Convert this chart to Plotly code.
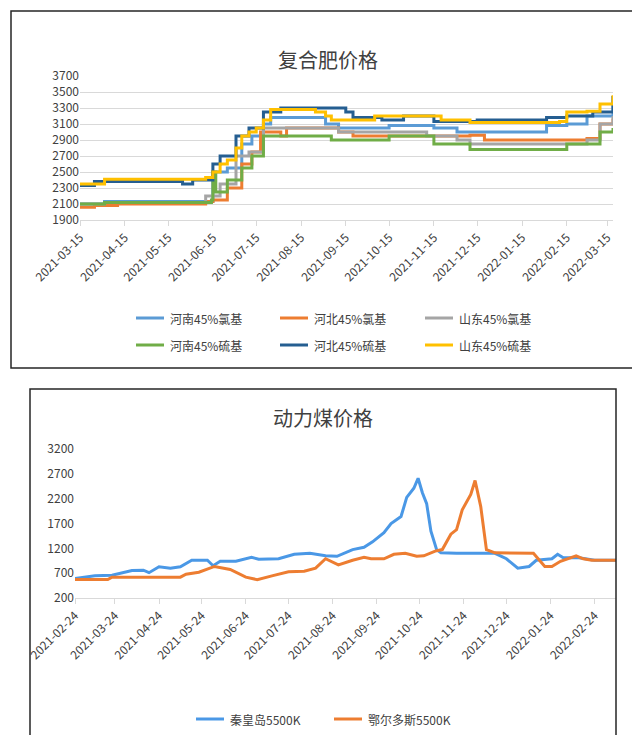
import plotly.graph_objects as go

FONT = "Noto Sans CJK SC"

# ---- 复合肥价格 ----
hn_cl_d = ["2021-03-15","2021-04-01","2021-06-10","2021-06-15","2021-06-25","2021-07-05","2021-07-12","2021-07-20","2021-07-25","2021-08-25","2021-09-01","2021-09-10","2021-10-10","2021-10-15","2021-11-10","2021-11-15","2021-12-01","2022-01-20","2022-02-01","2022-02-15","2022-03-01","2022-03-19"]
hn_cl_v = [2100,2130,2130,2500,2550,2850,2950,3100,3180,3180,3100,3050,3050,3080,3080,3050,3000,3000,3080,3100,3200,3450]
hb_cl_d = ["2021-03-15","2021-03-25","2021-04-10","2021-06-01","2021-06-10","2021-06-15","2021-06-25","2021-07-05","2021-07-12","2021-07-18","2021-08-01","2021-08-05","2021-09-01","2021-09-10","2021-09-20","2021-12-10","2021-12-20","2022-02-15","2022-03-01","2022-03-10","2022-03-19"]
hb_cl_v = [2060,2080,2100,2100,2130,2150,2300,2600,2750,3000,2950,3050,3050,3000,2950,2960,2900,2900,2920,3100,3170]
sd_cl_d = ["2021-03-15","2021-04-01","2021-06-01","2021-06-10","2021-06-20","2021-07-01","2021-07-10","2021-07-20","2021-09-01","2021-09-10","2021-11-01","2021-11-10","2021-12-01","2021-12-10","2022-02-15","2022-03-01","2022-03-10","2022-03-19"]
sd_cl_v = [2100,2120,2120,2200,2350,2700,2750,3050,3050,3000,3000,2950,2900,2850,2850,2900,3100,3200]
hn_s_d = ["2021-03-15","2021-04-01","2021-06-10","2021-06-14","2021-06-15","2021-06-17","2021-06-25","2021-07-05","2021-07-12","2021-07-20","2021-09-01","2021-09-05","2021-10-10","2021-10-15","2021-11-10","2021-11-15","2021-12-05","2021-12-10","2022-02-10","2022-02-15","2022-03-01","2022-03-10","2022-03-19"]
hn_s_v = [2100,2120,2120,2150,2500,2250,2400,2550,2700,2950,2950,2900,2900,2950,2950,2850,2850,2780,2780,2850,2850,3000,3050]
hb_s_d = ["2021-03-15","2021-03-25","2021-05-01","2021-05-25","2021-06-01","2021-06-15","2021-06-20","2021-07-01","2021-07-10","2021-07-20","2021-08-01","2021-08-25","2021-09-15","2021-09-20","2021-10-10","2021-10-25","2021-11-10","2021-11-15","2021-12-10","2021-12-15","2022-01-20","2022-02-01","2022-02-15","2022-03-05","2022-03-19"]
hb_s_v = [2330,2380,2380,2350,2400,2600,2700,2950,3050,3250,3300,3300,3250,3180,3150,3200,3200,3130,3130,3150,3150,3180,3200,3250,3450]
sd_s_d = ["2021-03-15","2021-04-01","2021-06-01","2021-06-10","2021-06-15","2021-06-20","2021-06-25","2021-07-01","2021-07-05","2021-07-10","2021-07-15","2021-07-20","2021-07-25","2021-08-20","2021-08-25","2021-09-01","2021-09-05","2021-10-01","2021-10-05","2021-11-15","2021-11-20","2021-12-10","2022-02-10","2022-02-15","2022-03-01","2022-03-10","2022-03-19"]
sd_s_v = [2350,2410,2410,2430,2500,2600,2650,2800,2950,3000,3050,3150,3280,3280,3250,3200,3150,3150,3200,3200,3150,3120,3130,3250,3260,3350,3460]

top_ticks = ["2021-03-15","2021-04-15","2021-05-15","2021-06-15","2021-07-15","2021-08-15","2021-09-15","2021-10-15","2021-11-15","2021-12-15","2022-01-15","2022-02-15","2022-03-15"]
top_yticks = [1900,2100,2300,2500,2700,2900,3100,3300,3500,3700]

# ---- 动力煤价格 ----
qhd_d = ["2021-02-24","2021-03-10","2021-03-22","2021-04-05","2021-04-13","2021-04-17","2021-04-24","2021-05-02","2021-05-09","2021-05-17","2021-05-28","2021-06-01","2021-06-06","2021-06-17","2021-06-28","2021-07-03","2021-07-17","2021-07-28","2021-08-08","2021-08-19","2021-08-27","2021-09-07","2021-09-15","2021-09-21","2021-09-29","2021-10-04","2021-10-11","2021-10-15","2021-10-20","2021-10-23","2021-10-26","2021-10-29","2021-11-01","2021-11-05","2021-11-08","2021-11-19","2021-12-16","2021-12-24","2022-01-01","2022-01-09","2022-01-14","2022-01-25","2022-01-29","2022-02-02","2022-02-13","2022-02-24","2022-03-11"]
qhd_v = [590,650,660,755,760,710,830,800,830,960,960,850,940,940,1020,980,990,1080,1100,1050,1040,1175,1220,1330,1515,1700,1840,2225,2410,2610,2320,2100,1545,1175,1110,1100,1100,990,800,835,960,990,1080,1010,1010,960,960]
eeds_d = ["2021-02-24","2021-03-19","2021-03-22","2021-05-09","2021-05-13","2021-05-22","2021-06-02","2021-06-13","2021-06-24","2021-07-02","2021-07-13","2021-07-24","2021-08-04","2021-08-12","2021-08-19","2021-08-23","2021-08-28","2021-09-07","2021-09-15","2021-09-20","2021-09-29","2021-10-06","2021-10-14","2021-10-22","2021-10-27","2021-11-04","2021-11-09","2021-11-15","2021-11-19","2021-11-23","2021-11-29","2021-12-02","2021-12-06","2021-12-10","2021-12-16","2022-01-12","2022-01-20","2022-01-25","2022-01-31","2022-02-11","2022-02-16","2022-02-22","2022-03-11"]
eeds_v = [570,570,620,620,680,720,835,775,620,570,650,730,740,800,990,940,865,960,1020,990,990,1080,1100,1040,1050,1145,1175,1485,1575,1975,2285,2565,2040,1175,1110,1100,835,835,940,1050,990,960,960]

bot_ticks = ["2021-02-24","2021-03-24","2021-04-24","2021-05-24","2021-06-24","2021-07-24","2021-08-24","2021-09-24","2021-10-24","2021-11-24","2021-12-24","2022-01-24","2022-02-24"]
bot_yticks = [200,700,1200,1700,2200,2700,3200]

W, H = 640, 735
def py(p): return 1 - p / H
def px(p): return p / W

fig = go.Figure()
top = [
    ("河南45%氯基", hn_cl_d, hn_cl_v, "#5B9BD5", 128, 310),
    ("河北45%氯基", hb_cl_d, hb_cl_v, "#ED7D31", 272, 310),
    ("山东45%氯基", sd_cl_d, sd_cl_v, "#A5A5A5", 417, 310),
    ("河南45%硫基", hn_s_d, hn_s_v, "#70AD47", 128, 337),
    ("河北45%硫基", hb_s_d, hb_s_v, "#255E91", 272, 337),
    ("山东45%硫基", sd_s_d, sd_s_v, "#FFC000", 417, 337),
]
shapes = [
    dict(type="rect", xref="paper", yref="paper", x0=px(3), x1=px(636), y0=py(360), y1=py(3), line=dict(color="#262626", width=1.5)),
    dict(type="rect", xref="paper", yref="paper", x0=px(22), x1=px(608), y0=py(733), y1=py(381), line=dict(color="#262626", width=1.5)),
]
legfont = dict(family=FONT, size=12, color="#404040")
annotations = [
    dict(text="复合肥价格", xref="paper", yref="paper", x=px(320), y=py(35), showarrow=False, font=dict(family=FONT, size=20, color="#404040")),
    dict(text="动力煤价格", xref="paper", yref="paper", x=px(315), y=py(410), showarrow=False, font=dict(family=FONT, size=20, color="#404040")),
]
def add_key(name, c, x, y):
    shapes.append(dict(type="line", xref="paper", yref="paper", x0=px(x), x1=px(x + 28), y0=py(y), y1=py(y), line=dict(color=c, width=3)))
    annotations.append(dict(text=name, xref="paper", yref="paper", x=px(x + 32), y=py(y), xanchor="left", yanchor="middle", showarrow=False, font=legfont))

for name, d, v, c, lx, ly in top:
    fig.add_trace(go.Scatter(x=d, y=v, name=name, mode="lines", line=dict(color=c, width=3, shape="hv"), xaxis="x", yaxis="y"))
    add_key(name, c, lx, ly)
for name, d, v, c, lx in [("秦皇岛5500K", qhd_d, qhd_v, "#4A98E6", 188), ("鄂尔多斯5500K", eeds_d, eeds_v, "#ED7D31", 326)]:
    fig.add_trace(go.Scatter(x=d, y=v, name=name, mode="lines", line=dict(color=c, width=3), xaxis="x2", yaxis="y2"))
    add_key(name, c, lx, 711)

tickfont = dict(family=FONT, size=12, color="#404040")
xcommon = dict(type="date", tickangle=-45, tickfont=tickfont, showgrid=False, showline=True,
               linecolor="#D9D9D9", ticks="outside", ticklen=5, tickcolor="#D9D9D9")
fig.update_layout(
    width=W, height=H, margin=dict(l=0, r=0, t=0, b=0, autoexpand=False), plot_bgcolor="white", paper_bgcolor="white",
    showlegend=False,
    xaxis=dict(domain=[px(72), px(605)], range=["2021-03-15", "2022-03-19"], tickvals=top_ticks, ticktext=top_ticks, anchor="y", **xcommon),
    yaxis=dict(domain=[py(212), py(68)], range=[1900, 3700], tickvals=top_yticks, tickfont=tickfont,
               showgrid=True, gridcolor="#D9D9D9", zeroline=False, anchor="x"),
    xaxis2=dict(domain=[px(67), px(608)], range=["2021-02-24", "2022-03-11"], tickvals=bot_ticks, ticktext=bot_ticks, anchor="y2", **xcommon),
    yaxis2=dict(domain=[py(590), py(441)], range=[200, 3200], tickvals=bot_yticks, tickfont=tickfont,
                showgrid=False, zeroline=False, anchor="x2"),
    shapes=shapes, annotations=annotations,
)
fig.write_html("out.html")
